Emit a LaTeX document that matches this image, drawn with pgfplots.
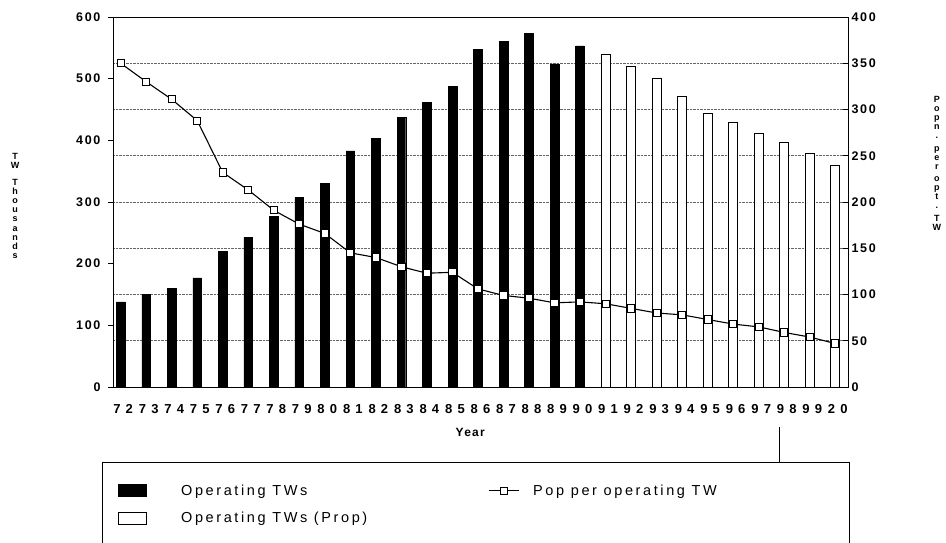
\documentclass[border=0pt]{standalone}
\usepackage{fontspec}
\setmainfont{Liberation Sans}
\newfontfamily\yticksfont[LetterSpace=14]{Liberation Sans}
\newfontfamily\xticksfont[LetterSpace=40]{Liberation Sans}
\newfontfamily\legfont[LetterSpace=18]{Liberation Sans}
\newfontfamily\labfont[LetterSpace=10]{Liberation Sans}
\usepackage{pgfplots}
\pgfplotsset{compat=1.18}
\usepackage{pgfplotstable}

\pgfplotsset{
  barleg/.style={legend image code/.code={\draw[##1] (0pt,-6pt) rectangle (28pt,6pt);}},
  lineleg/.style={legend image code/.code={\draw[mark repeat=2,mark phase=2,##1] plot coordinates {(0pt,0pt)(15pt,0pt)(30pt,0pt)};}},
}

\pgfplotstableread{
x y
0 138
1 150
2 160
3 177
4 220
5 243
6 277
7 307
8 330
9 383
10 403
11 437
12 462
13 487
14 547
15 561
16 573
17 524
18 553
}\actual
\pgfplotstableread{
x y
19 540
20 520
21 500
22 472
23 444
24 429
25 412
26 396
27 378
28 360
}\prop
\pgfplotstableread{
x y
0 350
1 330
2 311
3 288
4 232
5 213
6 191
7 176
8 166
9 145
10 140
11 130
12 123
13 124
14 106
15 99
16 96
17 91
18 92
19 90
20 85
21 80
22 78
23 73
24 68
25 65
26 59
27 54
28 47
}\ratio

\begin{document}
\begin{tikzpicture}
\useasboundingbox (0,0) rectangle (946pt,543pt);
\begin{axis}[
  at={(113pt,156pt)}, anchor=south west,
  scale only axis, width=735pt, height=370pt,
  xmin=-0.3, xmax=28.5, ymin=0, ymax=600,
  xtick={0,...,28},
  xticklabels={72,73,74,75,76,77,78,79,80,81,82,83,84,85,86,87,88,89,90,91,92,93,94,95,96,97,98,99,20},
  major x tick style={draw=none},
  xtick pos=bottom,
  ytick={0,100,...,600}, ytick pos=left,
  tick align=outside, major tick length=5pt,
  minor ytick={75,150,225,300,375,450,525},
  yminorgrids, minor tick length=0pt,
  minor grid style={densely dotted, black!60, line width=0.6pt},
  axis line style={line width=0.9pt},
  major tick style={line width=0.8pt, black},
  /pgf/number format/assume math mode=true,
  yticklabel style={font=\yticksfont\bfseries\fontsize{12.5}{14}\selectfont, xshift=-4pt},
  xticklabel style={font=\xticksfont\bfseries\fontsize{13}{15}\selectfont, yshift=-9pt, xshift=2.5pt},
  xlabel={Year},
  xlabel style={font=\labfont\bfseries\fontsize{12}{14}\selectfont, at={(axis description cs:0.486,-0.1216)}, anchor=center},
  ylabel={T\\W\\[7pt]T\\h\\o\\u\\s\\a\\n\\d\\s},
  ylabel style={rotate=-90, align=center, font=\bfseries\fontsize{9}{9.2}\selectfont, at={(axis description cs:-0.1333,0.489)}, anchor=center},
]
\addplot[ybar, bar width=0.34, bar shift=0pt, fill=black, draw=black] table {\actual};
\addplot[ybar, bar width=0.36, bar shift=0pt, fill=white, draw=black, line width=0.8pt] table {\prop};
\end{axis}
\begin{axis}[
  at={(113pt,156pt)}, anchor=south west,
  scale only axis, width=735pt, height=370pt,
  xmin=-0.3, xmax=28.5, ymin=0, ymax=400,
  hide x axis,
  axis y line*=right,
  ytick={0,50,...,400},
  tick align=inside, major tick length=5pt,
  axis line style={line width=0.9pt},
  major tick style={line width=0.8pt, black},
  /pgf/number format/assume math mode=true,
  yticklabel style={font=\yticksfont\bfseries\fontsize{12.5}{14}\selectfont},
  ylabel={P\\o\\p\\n\\.\\[4pt]p\\e\\r\\[3pt]o\\p\\t\\.\\[4pt]T\\W},
  ylabel style={rotate=-90, align=center, font=\bfseries\fontsize{9}{9}\selectfont, at={(axis description cs:1.121,0.605)}, anchor=center},
  legend columns=2,
  legend cell align=left,
  legend style={
    at={(axis description cs:-0.015,-0.2027)}, anchor=north west,
    draw=black, line width=0.7pt,
    nodes={inner sep=0pt},
    inner xsep=16pt, inner ysep=22pt, row sep=15pt,
    font=\legfont\fontsize{14.5}{16}\selectfont,
    /tikz/column 1/.style={column sep=34pt},
    /tikz/column 2/.style={column sep=0pt},
    /tikz/column 3/.style={column sep=14pt},
  },
]
\addlegendimage{barleg, fill=black, draw=black, line width=0.6pt}
\addlegendentry{\makebox[307pt][l]{Operating TWs}}
\addplot[lineleg, black, line width=1.1pt, mark=square*, mark size=3.6pt,
  mark options={fill=white, solid, line width=0.9pt}]
  table {\ratio};
\addlegendentry{\makebox[300pt][l]{Pop per operating TW}}
\addlegendimage{barleg, fill=white, draw=black, line width=0.8pt}
\addlegendentry{\makebox[307pt][l]{Operating TWs (Prop)}}
\end{axis}
\draw[line width=0.6pt] (779pt,116pt) -- (779pt,81pt);
\end{tikzpicture}
\end{document}
